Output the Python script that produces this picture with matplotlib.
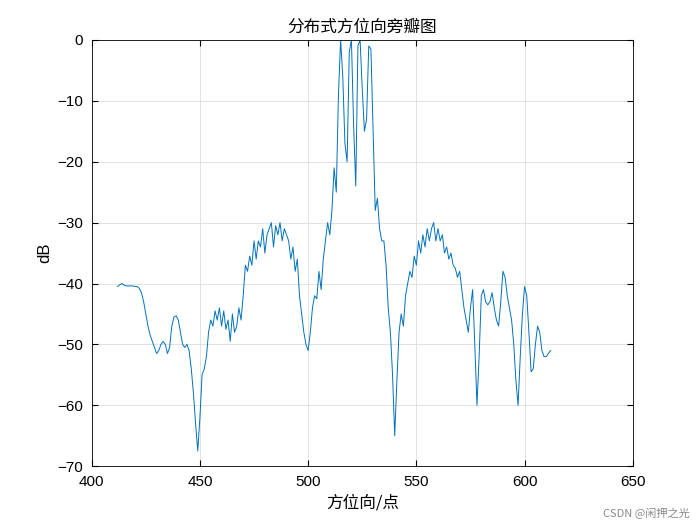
import matplotlib
matplotlib.use("Agg")
import matplotlib.pyplot as plt
import numpy as np

plt.rcParams['font.family'] = ['Noto Sans CJK SC', 'DejaVu Sans']

x_start = 412
db = [-40.5,-40.2,-40.0,-40.3,-40.4,-40.4,-40.4,-40.4,-40.5,-40.5,-40.8,-41.5,-43,
      -45,-47,-48.5,-49.5,-50.5,-51.5,-51,-50,-49.5,-50,-51.5,-50.5,-47,-45.5,-45.3,-46,
      -48,-50,-50.5,-50,-51,-54,-58,-63,-67.5,-62,-55,-54,-52,-48,-46,-47,-44.5,-46,-44,
      -47,-44.5,-47.5,-46,-49.5,-45,-48,-47,-44,-46,-42,-37,-38,-35.5,-37,-33,-36,-33,
      -34,-31,-35,-32,-31,-30,-34,-30.5,-32,-30,-33,-31,-32,-33,-36,-34,-38,-36,-42,-45,
      -48,-50,-51,-48,-44,-42,-42.5,-38,-41,-36,-33,-30,-32,-28,-21,-25,-9,0,-6,-17,-20,
      -2,0,-14,-24,-1,0,-8,-15,-13,-1,-1.5,-15,-28,-26,-31,-33,-33,-37,-44,-48,-55,-65,
      -56,-48,-45,-47,-42,-40,-38,-39,-35.5,-37,-33,-35,-32,-34,-31,-33,-31,-30,-33,-31,
      -33,-32,-35,-34,-36,-35,-37,-37.5,-39,-38,-41,-44,-46,-48,-44,-41,-50,-60,-52,-42,
      -41,-43,-43.5,-43,-41.5,-44,-46,-47,-43,-38,-39,-42,-44,-46,-50,-56,-60,-52,-45,
      -40.5,-42,-48,-54.5,-54,-50,-47,-48,-51,-52,-52,-51.5,-51]
x = np.arange(x_start, x_start + len(db))

fig = plt.figure(figsize=(7, 5.25), dpi=100)
ax = fig.add_axes([0.131, 0.112, 0.773, 0.812])
ax.plot(x, db, color='#0072BD', lw=0.7)
ax.set_xlim(400, 650)
ax.set_ylim(-70, 0)
ax.set_xticks(range(400, 651, 50))
ax.set_yticks(range(-70, 1, 10))
ax.grid(True, color='#dddddd', lw=0.6)
ax.tick_params(direction='in', labelsize=11, top=True, right=True, length=4, pad=6)
for lab in ax.get_xticklabels() + ax.get_yticklabels():
    lab.set_fontfamily('Liberation Sans')
for s in ax.spines.values():
    s.set_linewidth(0.6)
ax.set_title('分布式方位向旁瓣图', fontsize=12)
ax.set_xlabel('方位向/点', fontsize=12)
ax.set_ylabel('dB', fontsize=12, family='Liberation Sans')
fig.text(0.985, 0.012, 'CSDN @闲押之光', ha='right', va='bottom', fontsize=8, color='#888888')
fig.savefig('out.png', dpi=100)
